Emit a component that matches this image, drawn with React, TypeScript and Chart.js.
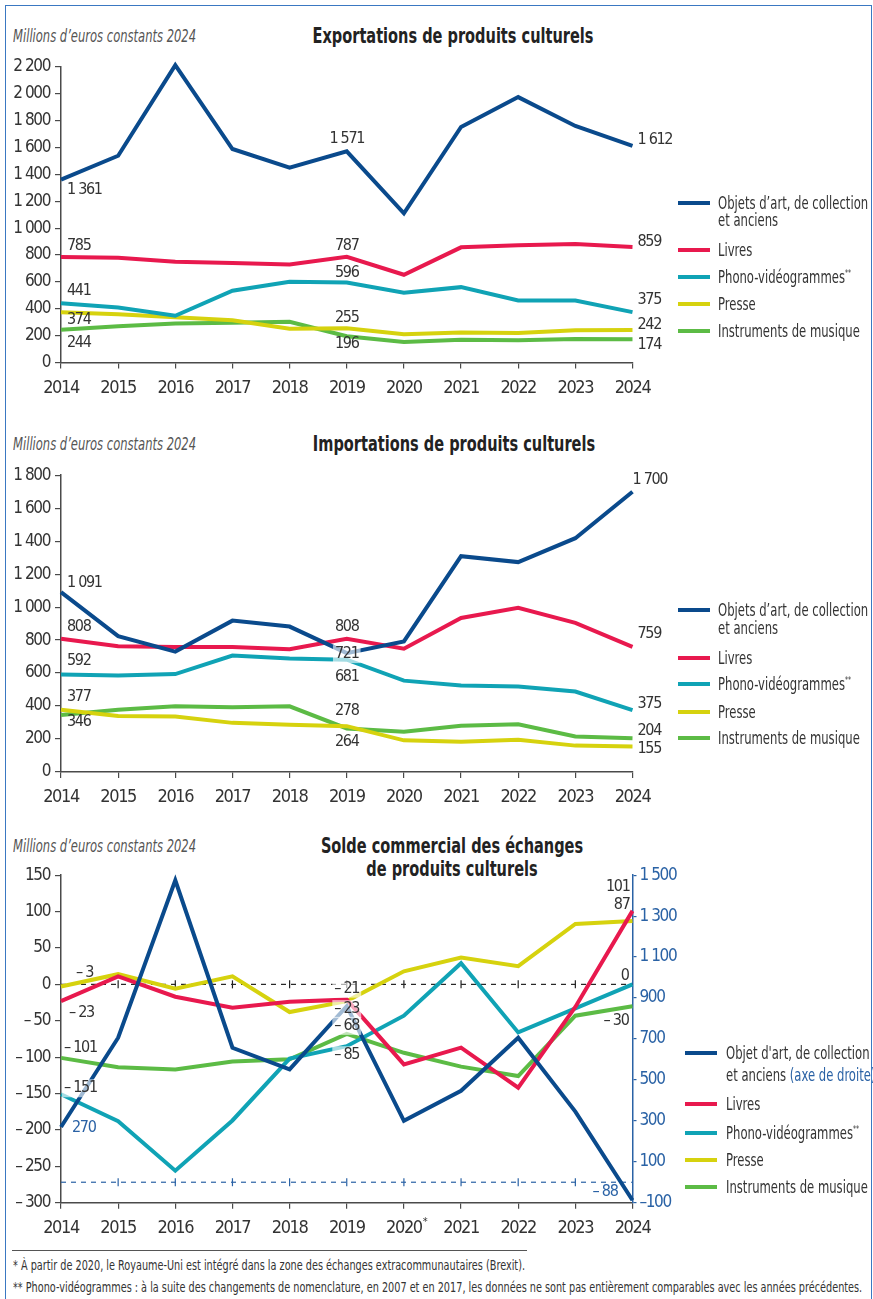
import React, { useEffect, useRef } from 'react';
import { Chart, registerables } from 'chart.js';

Chart.register(...registerables);

const FONT = '"Liberation Sans Narrow", "DejaVu Sans Condensed", "Arial Narrow", sans-serif';

// ---------- DATA ----------
const years = ['2014', '2015', '2016', '2017', '2018', '2019', '2020', '2021', '2022', '2023', '2024'];
const balanceYears = ['2014', '2015', '2016', '2017', '2018', '2019', '2020*', '2021', '2022', '2023', '2024'];

const seriesNames = ['Objets d’art, de collection et anciens', 'Livres', 'Phono-vidéogrammes**', 'Presse', 'Instruments de musique'];

// Exportations (millions d'euros constants 2024)
const expObjets = [1361, 1538, 2212, 1588, 1449, 1571, 1110, 1752, 1974, 1759, 1612];
const expLivres = [785, 780, 750, 740, 730, 787, 653, 857, 872, 882, 859];
const expPhono = [441, 410, 348, 534, 601, 596, 519, 561, 462, 462, 375];
const expPresse = [374, 360, 338, 315, 251, 255, 211, 224, 221, 241, 242];
const expInstruments = [244, 271, 291, 296, 303, 196, 154, 169, 166, 176, 174];

// Importations
const impObjets = [1091, 824, 730, 918, 882, 721, 792, 1309, 1273, 1418, 1700];
const impLivres = [808, 762, 758, 758, 744, 808, 748, 934, 996, 904, 759];
const impPhono = [592, 586, 594, 706, 688, 681, 554, 524, 518, 488, 375];
const impPresse = [377, 340, 336, 298, 286, 278, 192, 184, 196, 160, 155];
const impInstruments = [346, 378, 398, 392, 398, 264, 244, 280, 290, 216, 204];

// Solde commercial (objets d'art on right axis)
const solObjets = [270, 706, 1475, 657, 551, 860, 300, 447, 706, 345, -88];
const solLivres = [-23, 11, -17, -32, -24, -21, -110, -87, -142, -31, 101];
const solPhono = [-151, -188, -256, -187, -102, -85, -43, 29, -66, -33, 0];
const solPresse = [-3, 14, -6, 11, -38, -23, 18, 37, 25, 83, 87];
const solInstruments = [-101, -114, -117, -106, -103, -68, -94, -113, -126, -43, -30];

// Axis ranges
const expAxis = { min: 0, max: 2200, step: 200 };
const impAxis = { min: 0, max: 1800, step: 200 };
const solAxis = { min: -300, max: 150, step: 50 };
const solRightAxis = { min: -100, max: 1500, step: 200 };

// ---------- STYLE ----------
const COLORS = ['#0a4a8c', '#e8194e', '#10a3b5', '#d6d20e', '#5cbb45'];
const AXIS = '#4a4a4a';
const TXT = '#333333';
const BLUE_TXT = '#2a62a5';
const W = 873;
const AREA_LEFT = 61;
const AREA_RIGHT = 632.5;
const XAXIS_H = 40;
const RIGHT_W = 50;
const TICK_LS = '-1.4px';
const LABEL_LS = '-1.3px';

const group = (n: number) => String(Math.abs(Math.round(n))).replace(/\B(?=(\d{3})+(?!\d))/g, ' ');
const fmt = (v: number) => (v < 0 ? '\u2013 ' + group(v) : group(v));
const fmtTight = (v: number) => (v < 0 ? '\u2013' + group(v) : group(v));

type LabelItem = { ds: number; i: number; dx: number; dy: number; align: 'left' | 'right' | 'center'; color?: string; bg?: boolean };

const condensePlugin = {
  id: 'condense',
  beforeLayout(chart: any) {
    (chart.ctx as any).letterSpacing = TICK_LS;
  },
  beforeDraw(chart: any) {
    (chart.ctx as any).letterSpacing = TICK_LS;
  },
};

function makeLabelPlugin(items: LabelItem[]) {
  return {
    id: 'dataLabels',
    afterDatasetsDraw(chart: any) {
      const ctx = chart.ctx as any;
      ctx.save();
      ctx.letterSpacing = LABEL_LS;
      ctx.font = `16px ${FONT}`;
      ctx.textBaseline = 'middle';
      for (const it of items) {
        const el = chart.getDatasetMeta(it.ds).data[it.i];
        const v = chart.data.datasets[it.ds].data[it.i] as number;
        const text = fmt(v);
        const x = el.x + it.dx;
        const y = el.y + it.dy;
        ctx.textAlign = it.align;
        const w = ctx.measureText(text).width;
        if (it.bg) {
          const left = it.align === 'left' ? x : it.align === 'right' ? x - w : x - w / 2;
          ctx.fillStyle = 'rgba(255,255,255,0.62)';
          ctx.fillRect(left - 2, y - 9, w + 4, 18);
        }
        ctx.fillStyle = it.color || TXT;
        ctx.fillText(text, x, y);
      }
      ctx.restore();
    },
  };
}

const refLinesPlugin = {
  id: 'refLines',
  beforeDatasetsDraw(chart: any) {
    const { ctx, chartArea, scales } = chart;
    const n = chart.data.labels.length;
    const draw = (y: number, color: string) => {
      ctx.save();
      ctx.strokeStyle = color;
      ctx.lineWidth = 1.2;
      ctx.setLineDash([5, 5]);
      ctx.beginPath();
      ctx.moveTo(chartArea.left, y);
      ctx.lineTo(chartArea.right, y);
      ctx.stroke();
      ctx.setLineDash([]);
      for (let i = 1; i < n - 1; i++) {
        const x = scales.x.getPixelForValue(i);
        ctx.beginPath();
        ctx.moveTo(x, y - 4);
        ctx.lineTo(x, y + 4);
        ctx.stroke();
      }
      ctx.restore();
    };
    draw(scales.y.getPixelForValue(0), '#222');
    draw(scales.y1.getPixelForValue(0), BLUE_TXT);
  },
};

const starPlugin = {
  id: 'starMark',
  afterDraw(chart: any) {
    const { ctx, scales } = chart;
    const labels: string[] = chart.data.labels;
    ctx.save();
    ctx.letterSpacing = TICK_LS;
    ctx.fillStyle = TXT;
    labels.forEach((l, i) => {
      if (l.includes('*')) {
        const x = scales.x.getPixelForValue(i);
        ctx.font = `18px ${FONT}`;
        const w = ctx.measureText(l.replace('*', '')).width;
        ctx.letterSpacing = '0px';
        ctx.font = `11px ${FONT}`;
        ctx.textAlign = 'left';
        ctx.textBaseline = 'top';
        ctx.fillText('*', x + w / 2 + 1, scales.x.top + 14);
      }
    });
    ctx.restore();
  },
};

function xScale() {
  return {
    type: 'category',
    offset: false,
    grid: { drawOnChartArea: false, drawTicks: true, tickLength: 6, color: AXIS, offset: false, lineWidth: 1.2 },
    border: { display: true, color: AXIS, width: 1.5 },
    ticks: {
      color: TXT,
      font: { family: FONT, size: 18 },
      padding: 9,
      maxRotation: 0,
      autoSkip: false,
      callback: function (this: any, _v: any, i: number) {
        return String(this.chart.data.labels[i]).replace('*', '');
      },
    },
    afterFit: (s: any) => {
      s.height = XAXIS_H;
    },
  };
}

function yScale(ax: { min: number; max: number; step: number }, position: 'left' | 'right', color: string, f: (v: number) => string) {
  return {
    type: 'linear',
    position,
    min: ax.min,
    max: ax.max,
    grid: { drawOnChartArea: false, drawTicks: true, tickLength: position === 'left' ? 6 : 4, color, lineWidth: 1.2 },
    border: { display: true, color, width: 1.5 },
    ticks: {
      stepSize: ax.step,
      color: position === 'left' ? TXT : BLUE_TXT,
      font: { family: FONT, size: 17 },
      padding: position === 'left' ? 5 : 3,
      callback: (v: any) => f(Number(v)),
    },
    afterFit: (s: any) => {
      s.width = position === 'left' ? AREA_LEFT : RIGHT_W;
    },
  };
}

function ds(i: number, data: number[], yAxisID = 'y') {
  return {
    label: seriesNames[i],
    data,
    borderColor: COLORS[i],
    backgroundColor: COLORS[i],
    borderWidth: 4,
    pointRadius: 0,
    tension: 0,
    fill: false,
    clip: false,
    yAxisID,
  };
}

type Geo = { canvasTop: number; canvasHeight: number; areaTop: number; areaBottom: number; right?: boolean };

function baseOptions(g: Geo, scales: any) {
  return {
    responsive: false,
    animation: false,
    layout: {
      padding: {
        left: 0,
        top: g.areaTop - g.canvasTop,
        bottom: g.canvasTop + g.canvasHeight - g.areaBottom - XAXIS_H,
        right: W - AREA_RIGHT - (g.right ? RIGHT_W : 0),
      },
    },
    plugins: { legend: { display: false }, tooltip: { enabled: false }, title: { display: false } },
    scales,
  };
}

const geoExp: Geo = { canvasTop: 50, canvasHeight: 360, areaTop: 66.7, areaBottom: 362.6 };
const geoImp: Geo = { canvasTop: 460, canvasHeight: 360, areaTop: 475, areaBottom: 772 };
const geoSol: Geo = { canvasTop: 860, canvasHeight: 390, areaTop: 875, areaBottom: 1202.7, right: true };

const expLabels: LabelItem[] = [
  { ds: 0, i: 0, dx: 6, dy: 10.5, align: 'left' },
  { ds: 0, i: 5, dx: 0, dy: -12, align: 'center' },
  { ds: 0, i: 10, dx: 5, dy: -6, align: 'left' },
  { ds: 1, i: 0, dx: 6, dy: -11, align: 'left' },
  { ds: 1, i: 5, dx: 0, dy: -11, align: 'center' },
  { ds: 1, i: 10, dx: 5, dy: -5, align: 'left' },
  { ds: 2, i: 0, dx: 6, dy: -12, align: 'left' },
  { ds: 2, i: 5, dx: 0, dy: -10, align: 'center' },
  { ds: 2, i: 10, dx: 5, dy: -12, align: 'left' },
  { ds: 3, i: 0, dx: 6, dy: 8, align: 'left' },
  { ds: 3, i: 5, dx: 0, dy: -10, align: 'center' },
  { ds: 3, i: 10, dx: 5, dy: -5, align: 'left' },
  { ds: 4, i: 0, dx: 6, dy: 13, align: 'left' },
  { ds: 4, i: 5, dx: 0, dy: 8, align: 'center' },
  { ds: 4, i: 10, dx: 5, dy: 6, align: 'left' },
];

const impLabels: LabelItem[] = [
  { ds: 0, i: 0, dx: 6, dy: -9, align: 'left' },
  { ds: 0, i: 5, dx: 0, dy: 1, align: 'center', bg: true },
  { ds: 0, i: 10, dx: 0, dy: -12, align: 'left' },
  { ds: 1, i: 0, dx: 6, dy: -12, align: 'left' },
  { ds: 1, i: 5, dx: 0, dy: -12, align: 'center' },
  { ds: 1, i: 10, dx: 5, dy: -13, align: 'left' },
  { ds: 2, i: 0, dx: 6, dy: -14, align: 'left' },
  { ds: 2, i: 5, dx: 0, dy: 17, align: 'center' },
  { ds: 2, i: 10, dx: 5, dy: -6, align: 'left' },
  { ds: 3, i: 0, dx: 6, dy: -13, align: 'left' },
  { ds: 3, i: 5, dx: 0, dy: -15, align: 'center' },
  { ds: 3, i: 10, dx: 5, dy: 2, align: 'left' },
  { ds: 4, i: 0, dx: 6, dy: 7, align: 'left' },
  { ds: 4, i: 5, dx: 0, dy: 13, align: 'center' },
  { ds: 4, i: 10, dx: 5, dy: -8, align: 'left' },
];

const solLabels: LabelItem[] = [
  { ds: 0, i: 0, dx: 11, dy: 1, align: 'left', color: BLUE_TXT },
  { ds: 0, i: 10, dx: -15, dy: -8.5, align: 'right', color: BLUE_TXT },
  { ds: 1, i: 0, dx: 8, dy: 12, align: 'left' },
  { ds: 1, i: 5, dx: 0, dy: -11, align: 'center', bg: true },
  { ds: 1, i: 10, dx: -3, dy: -24, align: 'right' },
  { ds: 2, i: 0, dx: 3, dy: -6, align: 'left', bg: true },
  { ds: 2, i: 5, dx: 0, dy: 9, align: 'center', bg: true },
  { ds: 2, i: 10, dx: -4, dy: -9, align: 'right' },
  { ds: 3, i: 0, dx: 15, dy: -13.5, align: 'left' },
  { ds: 3, i: 5, dx: 0, dy: 8, align: 'center', bg: true },
  { ds: 3, i: 10, dx: -3, dy: -16, align: 'right' },
  { ds: 4, i: 0, dx: 3, dy: -10, align: 'left' },
  { ds: 4, i: 5, dx: 0, dy: -8, align: 'center', bg: true },
  { ds: 4, i: 10, dx: -4, dy: 15, align: 'right' },
];

function expConfig(): any {
  return {
    type: 'line',
    data: {
      labels: years,
      datasets: [ds(0, expObjets), ds(1, expLivres), ds(2, expPhono), ds(3, expPresse), ds(4, expInstruments)],
    },
    options: baseOptions(geoExp, { x: xScale(), y: yScale(expAxis, 'left', AXIS, fmt) }),
    plugins: [condensePlugin, makeLabelPlugin(expLabels)],
  };
}

function impConfig(): any {
  return {
    type: 'line',
    data: {
      labels: years,
      datasets: [ds(0, impObjets), ds(1, impLivres), ds(2, impPhono), ds(3, impPresse), ds(4, impInstruments)],
    },
    options: baseOptions(geoImp, { x: xScale(), y: yScale(impAxis, 'left', AXIS, fmt) }),
    plugins: [condensePlugin, makeLabelPlugin(impLabels)],
  };
}

function solConfig(): any {
  return {
    type: 'line',
    data: {
      labels: balanceYears,
      datasets: [ds(0, solObjets, 'y1'), ds(1, solLivres), ds(2, solPhono), ds(3, solPresse), ds(4, solInstruments)],
    },
    options: baseOptions(geoSol, {
      x: xScale(),
      y: yScale(solAxis, 'left', AXIS, fmt),
      y1: yScale(solRightAxis, 'right', BLUE_TXT, fmtTight),
    }),
    plugins: [condensePlugin, refLinesPlugin, makeLabelPlugin(solLabels), starPlugin],
  };
}

function ChartCanvas({ geo, build }: { geo: Geo; build: () => any }) {
  const ref = useRef<HTMLCanvasElement>(null);
  useEffect(() => {
    const chart = new Chart(ref.current as HTMLCanvasElement, build());
    return () => chart.destroy();
  }, []);
  return (
    <canvas
      ref={ref}
      width={W}
      height={geo.canvasHeight}
      style={{ position: 'absolute', left: 0, top: geo.canvasTop, width: W, height: geo.canvasHeight, display: 'block' }}
    />
  );
}

function Text({ x, y, children, center, sx = 0.78, style }: { x: number; y: number; children: any; center?: boolean; sx?: number; style?: any }) {
  return (
    <div
      style={{
        position: 'absolute',
        left: x,
        top: y - 11,
        height: 22,
        lineHeight: '22px',
        whiteSpace: 'nowrap',
        fontFamily: FONT,
        color: TXT,
        transformOrigin: center ? 'center' : 'left center',
        transform: center ? `translateX(-50%) scaleX(${sx})` : `scaleX(${sx})`,
        ...style,
      }}
    >
      {children}
    </div>
  );
}

const sup = (s: string) => <sup style={{ fontSize: 9, verticalAlign: 'top', lineHeight: '14px' }}>{s}</sup>;

function Legend({ top, lineX, textX, rows, variant }: { top: number; lineX: number; textX: number; rows: number[]; variant: 'a' | 'b' }) {
  const labels: any[] = [
    variant === 'a' ? 'Objets d’art, de collection' : 'Objet d\'art, de collection',
    'Livres',
    <>Phono-vidéogrammes{sup('**')}</>,
    'Presse',
    'Instruments de musique',
  ];
  const fs = { fontSize: 17 };
  return (
    <>
      {rows.map((dy, i) => (
        <React.Fragment key={i}>
          <div style={{ position: 'absolute', left: lineX, top: top + dy - 2, width: 32, height: 4, background: COLORS[i] }} />
          <Text x={textX} y={top + dy} sx={0.76} style={fs}>
            {labels[i]}
          </Text>
        </React.Fragment>
      ))}
      <Text x={textX} y={top + rows[0] + (variant === 'a' ? 17.5 : 22)} sx={0.76} style={fs}>
        et anciens{variant === 'b' ? <span style={{ color: BLUE_TXT }}> (axe de droite)</span> : null}
      </Text>
    </>
  );
}

export default function App() {
  const caption = { fontStyle: 'italic', fontSize: 17, color: '#555' };
  const title = { fontWeight: 'bold', fontSize: 21, color: '#222' };
  const foot = { fontSize: 14 };
  return (
    <div style={{ position: 'absolute', left: 0, top: 0, width: W, height: 1299, overflow: 'hidden', background: '#fff' }}>
      <div
        style={{
          position: 'absolute',
          left: 5,
          top: 5,
          width: 865,
          height: 1320,
          borderTop: '1.5px solid #3a78c2',
          borderLeft: '1.5px solid #3a78c2',
          borderRight: '1.5px solid #3a78c2',
        }}
      />
      <Text x={13} y={36} sx={0.755} style={caption}>Millions d’euros constants 2024</Text>
      <Text x={453} y={36} center sx={0.77} style={title}>Exportations de produits culturels</Text>
      <ChartCanvas geo={geoExp} build={expConfig} />
      <Legend top={0} lineX={678} textX={718} rows={[202.7, 250, 276.7, 304, 330.7]} variant="a" />

      <Text x={13} y={444} sx={0.755} style={caption}>Millions d’euros constants 2024</Text>
      <Text x={454} y={444} center sx={0.77} style={title}>Importations de produits culturels</Text>
      <ChartCanvas geo={geoImp} build={impConfig} />
      <Legend top={407.5} lineX={678} textX={718} rows={[202.7, 250, 276.7, 304, 330.7]} variant="a" />

      <Text x={13} y={846} sx={0.755} style={caption}>Millions d’euros constants 2024</Text>
      <Text x={452} y={846} center sx={0.77} style={title}>Solde commercial des échanges</Text>
      <Text x={452} y={869} center sx={0.77} style={title}>de produits culturels</Text>
      <ChartCanvas geo={geoSol} build={solConfig} />
      <Legend top={0} lineX={685} textX={726} rows={[1053, 1104, 1132.7, 1160, 1187.3]} variant="b" />

      <div style={{ position: 'absolute', left: 12, top: 1250, width: 515, height: 1, background: '#555' }} />
      <Text x={13} y={1265} sx={0.77} style={foot}>
        * À partir de 2020, le Royaume-Uni est intégré dans la zone des échanges extracommunautaires (Brexit).
      </Text>
      <Text x={13} y={1287} sx={0.77} style={foot}>
        ** Phono-vidéogrammes : à la suite des changements de nomenclature, en 2007 et en 2017, les données ne sont pas entièrement comparables avec les années précédentes.
      </Text>
    </div>
  );
}
